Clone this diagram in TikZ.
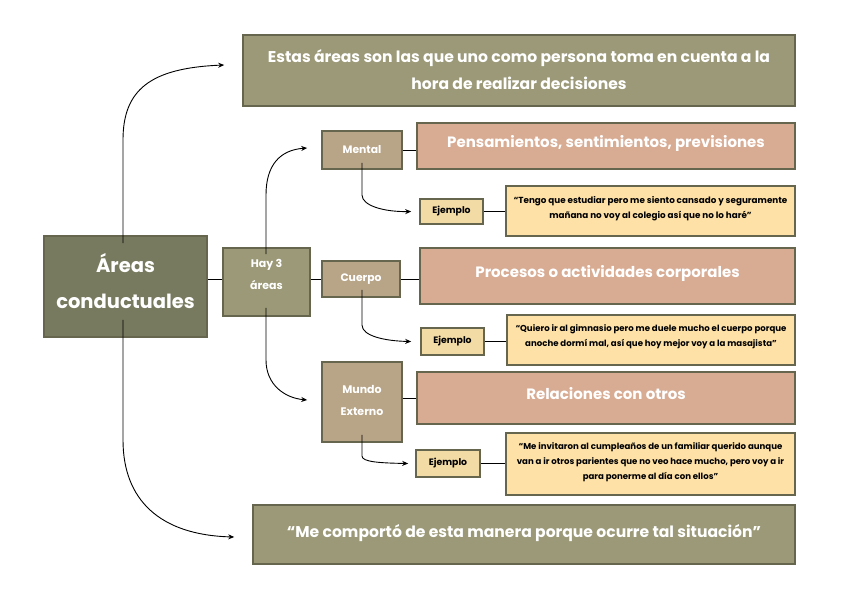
\documentclass[tikz,border=0pt]{standalone}
\usepackage{fontspec}
\setmainfont{Poppins}
\usetikzlibrary{arrows.meta}
\definecolor{cDark}{HTML}{787A5F}
\definecolor{cOlive}{HTML}{9B9977}
\definecolor{cTan}{HTML}{B8A486}
\definecolor{cSalmon}{HTML}{D8AB93}
\definecolor{cEj}{HTML}{F2DBA4}
\definecolor{cEx}{HTML}{FEE1A6}
\definecolor{cBorder}{HTML}{66664F}
\tikzset{
  box/.style={draw=cBorder, line width=1.6pt, inner sep=0pt, align=center, font=\bfseries, text=white},
  darkbox/.style={box, fill=cDark},
  olivebox/.style={box, fill=cOlive},
  tanbox/.style={box, fill=cTan},
  salmonbox/.style={box, fill=cSalmon},
  ejbox/.style={box, fill=cEj, text=black},
  exbox/.style={box, fill=cEx, text=black},
  conn/.style={draw=black, line width=0.9pt},
  arr/.style={conn, -{Stealth[length=6pt,width=5pt]}},
}
\begin{document}
\begin{tikzpicture}[x=1pt,y=-1pt]
\useasboundingbox (0,0) rectangle (848,599);
% boxes
\node[olivebox, minimum width=552pt, minimum height=71pt, text depth=2pt, font=\bfseries\fontsize{15.6}{27}\selectfont] (top) at (519,70.5)
  {Estas áreas son las que uno como persona toma en cuenta a la\\hora de realizar decisiones};
\node[darkbox, minimum width=163pt, minimum height=101pt, text depth=12pt, font=\bfseries\fontsize{19.5}{36}\selectfont] (areas) at (125.5,286.5)
  {Áreas\\conductuales};
\node[olivebox, minimum width=87pt, minimum height=68pt] (hay) at (266.5,282) {};
\node[text=white, font=\bfseries\fontsize{11}{22}\selectfont, align=center, inner sep=0pt] (hayt) at (266.5,274) {Hay 3\\áreas};

\node[tanbox, minimum width=80pt, minimum height=38pt, font=\bfseries\fontsize{10.8}{12}\selectfont] (mental) at (362,150) {Mental};
\node[salmonbox, minimum width=378pt, minimum height=46pt, text depth=10pt, font=\bfseries\fontsize{15}{16}\selectfont] (pens) at (606,146) {Pensamientos, sentimientos, previsiones};
\node[ejbox, minimum width=63pt, minimum height=25pt, font=\bfseries\fontsize{9.3}{10}\selectfont] (ej1) at (451.5,211.5) {Ejemplo};
\node[exbox, minimum width=289pt, minimum height=50pt, text depth=8pt, font=\bfseries\fontsize{8.8}{15}\selectfont] (ex1) at (650.5,211)
  {“Tengo que estudiar pero me siento cansado y seguramente\\mañana no voy al colegio así que no lo haré”};

\node[tanbox, minimum width=78pt, minimum height=36pt, font=\bfseries\fontsize{10.8}{12}\selectfont] (cuerpo) at (361,279) {Cuerpo};
\node[salmonbox, minimum width=375pt, minimum height=56pt, text depth=10pt, font=\bfseries\fontsize{15}{16}\selectfont] (proc) at (607.5,276) {Procesos o actividades corporales};
\node[ejbox, minimum width=63pt, minimum height=27pt, font=\bfseries\fontsize{9.3}{10}\selectfont] (ej2) at (452.5,341.5) {Ejemplo};
\node[exbox, minimum width=288pt, minimum height=50pt, text depth=8pt, font=\bfseries\fontsize{8.6}{15}\selectfont] (ex2) at (651,340)
  {“Quiero ir al gimnasio pero me duele mucho el cuerpo porque\\anoche dormí mal, así que hoy mejor voy a la masajista”};

\node[tanbox, minimum width=80pt, minimum height=80pt, text depth=4pt, font=\bfseries\fontsize{11}{22}\selectfont] (mundo) at (362,402) {Mundo\\Externo};
\node[salmonbox, minimum width=378pt, minimum height=52pt, text depth=10pt, font=\bfseries\fontsize{15}{16}\selectfont] (rel) at (606,398) {Relaciones con otros};
\node[ejbox, minimum width=64pt, minimum height=27pt, font=\bfseries\fontsize{9.3}{10}\selectfont] (ej3) at (448,463.5) {Ejemplo};
\node[exbox, minimum width=289pt, minimum height=62pt, text depth=6pt, font=\bfseries\fontsize{8.6}{15}\selectfont] (ex3) at (650.5,464)
  {“Me invitaron al cumpleaños de un familiar querido aunque\\van a ir otros parientes que no veo hace mucho, pero voy a ir\\para ponerme al día con ellos”};

\node[olivebox, minimum width=542pt, minimum height=59pt, text depth=8pt, font=\bfseries\fontsize{15.6}{18}\selectfont] (bot) at (524,534.5)
  {“Me comportó de esta manera porque ocurre tal situación”};

% straight connectors
\draw[conn] (areas.east |- 0,279) -- (hay.west |- 0,279);
\draw[conn] (hay.east |- 0,279) -- (cuerpo.west |- 0,279);
\draw[conn] (mental.east |- 0,150) -- (pens.west |- 0,150);
\draw[conn] (cuerpo.east |- 0,279) -- (proc.west |- 0,279);
\draw[conn] (mundo.east |- 0,398) -- (rel.west |- 0,398);
\draw[conn] (ej1.east) -- (ex1.west |- ej1.east);
\draw[conn] (ej2.east) -- (ex2.west |- ej2.east);
\draw[conn] (ej3.east) -- (ex3.west |- ej3.east);

% curved arrows
\draw[arr] ([yshift=-8pt]areas.north -| 123,0) -- (123,140) .. controls (123,90) and (150,68) .. ([xshift=-18pt]top.west |- 0,65);
\draw[arr] ([yshift=18pt]areas.south -| 123,0) -- (123,440) .. controls (123,500) and (160,535) .. ([xshift=-18pt]bot.west |- 0,537);
\draw[arr] ([yshift=-7pt]hay.north -| 266,0) -- (266,195) .. controls (266,165) and (280,150) .. ([xshift=-14pt]mental.west |- 0,148);
\draw[arr] ([yshift=9pt]hay.south -| 266,0) -- (266,360) .. controls (266,385) and (285,398) .. ([xshift=-14pt]mundo.west |- 0,400);
\draw[arr] ([yshift=7pt]mental.south) -- (362,195) .. controls (362,206) and (385,212) .. ([xshift=-8pt]ej1.west);
\draw[arr] ([yshift=8pt]cuerpo.south -| 362,0) -- (362,325) .. controls (362,336) and (385,341) .. ([xshift=-9pt]ej2.west);
\draw[arr] ([yshift=8pt]mundo.south) -- (362,456) .. controls (362,462) and (380,463) .. ([xshift=-7pt]ej3.west);
\end{tikzpicture}
\end{document}
